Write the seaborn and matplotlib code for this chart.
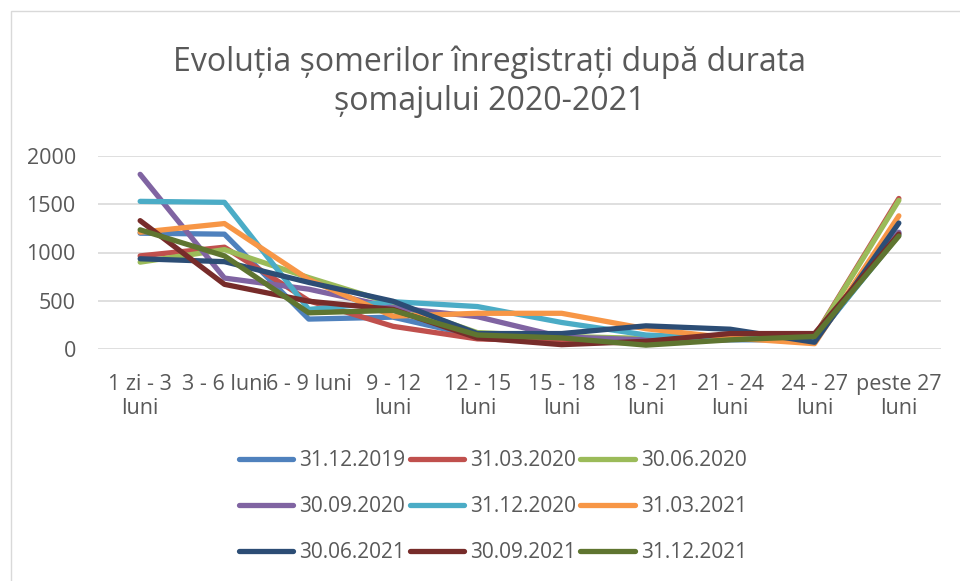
import pandas as pd
import matplotlib.pyplot as plt
import seaborn as sns
from matplotlib.patches import Rectangle

categorii = ["1 zi - 3\nluni", "3 - 6 luni", "6 - 9 luni", "9 - 12\nluni", "12 - 15\nluni",
             "15 - 18\nluni", "18 - 21\nluni", "21 - 24\nluni", "24 - 27\nluni", "peste 27\nluni"]

serii = ["31.12.2019", "31.03.2020", "30.06.2020", "30.09.2020", "31.12.2020",
         "31.03.2021", "30.06.2021", "30.09.2021", "31.12.2021"]

v_31_12_2019 = [1200, 1190, 310, 330, 130, 125, 90, 95, 95, 1200]
v_31_03_2020 = [965, 1055, 500, 235, 105, 80, 60, 100, 130, 1560]
v_30_06_2020 = [900, 1030, 740, 470, 170, 130, 110, 100, 125, 1540]
v_30_09_2020 = [1810, 735, 620, 430, 335, 125, 95, 100, 120, 1210]
v_31_12_2020 = [1530, 1520, 410, 490, 440, 275, 145, 110, 110, 1180]
v_31_03_2021 = [1210, 1300, 720, 340, 370, 370, 210, 115, 55, 1380]
v_30_06_2021 = [935, 905, 690, 495, 160, 160, 240, 205, 70, 1305]
v_30_09_2021 = [1330, 670, 495, 410, 115, 45, 80, 160, 160, 1190]
v_31_12_2021 = [1235, 965, 375, 400, 145, 115, 40, 95, 130, 1170]

valori = [v_31_12_2019, v_31_03_2020, v_30_06_2020, v_30_09_2020, v_31_12_2020,
          v_31_03_2021, v_30_06_2021, v_30_09_2021, v_31_12_2021]

culori = ["#4F81BD", "#C0504D", "#9BBB59", "#8064A2", "#4BACC6",
          "#F79646", "#2C4D75", "#772C2A", "#5F7530"]

rows = []
for s, vals in zip(serii, valori):
    for i, v in enumerate(vals):
        rows.append({"serie": s, "poz": i, "val": v})
df = pd.DataFrame(rows)

sns.set_style("white")
plt.rcParams['font.family'] = ['Open Sans', 'DejaVu Sans']
gri = "#595959"

fig = plt.figure(figsize=(9.6, 5.81), dpi=100)
fig.patches.append(Rectangle((11 / 960, -0.1), 1.1, 1 - 11 / 581 + 0.1, transform=fig.transFigure,
                             fill=False, edgecolor="#D9D9D9", linewidth=1))
ax = fig.add_axes([98 / 960, 1 - 349 / 581, (941 - 98) / 960, (349 - 156) / 581])

sns.lineplot(data=df, x="poz", y="val", hue="serie", hue_order=serii, palette=culori,
             linewidth=3.8, ax=ax, legend=False, sort=False)
for ln in ax.lines:
    ln.set_solid_capstyle("round")
    ln.set_solid_joinstyle("round")

ax.set_xlim(-0.5, 9.5)
ax.set_ylim(0, 2000)
ax.set_yticks([0, 500, 1000, 1500, 2000])
ax.set_xticks(range(10))
ax.set_xticklabels(categorii, linespacing=1.2)
ax.grid(axis="y", color="#D9D9D9", linewidth=1.2)
ax.set_axisbelow(True)
for sp in ax.spines.values():
    sp.set_visible(False)
ax.tick_params(axis="both", length=0, labelsize=15.5, colors=gri)
ax.tick_params(axis="x", pad=18)
ax.tick_params(axis="y", pad=16)
ax.set_xlabel("")
ax.set_ylabel("")

fig.text(0.51, 1 - 82 / 581, "Evoluția șomerilor înregistrați după durata\nșomajului 2020-2021",
         ha="center", va="center", fontsize=23, color=gri, linespacing=1.25)

# legenda pe randuri (matplotlib umple pe coloane)
ordine = [0, 3, 6, 1, 4, 7, 2, 5, 8]
handles = [plt.Line2D([0], [0], color=culori[i], linewidth=3.8, solid_capstyle="round") for i in ordine]
labels = [serii[i] for i in ordine]
fig.legend(handles, labels, loc="center", bbox_to_anchor=(493 / 960, 1 - 507 / 581), ncol=3,
           frameon=False, fontsize=15, labelcolor=gri, handlelength=2.6, handletextpad=0.3,
           columnspacing=0.2, labelspacing=1.2)

plt.savefig("out.png", dpi=100)
